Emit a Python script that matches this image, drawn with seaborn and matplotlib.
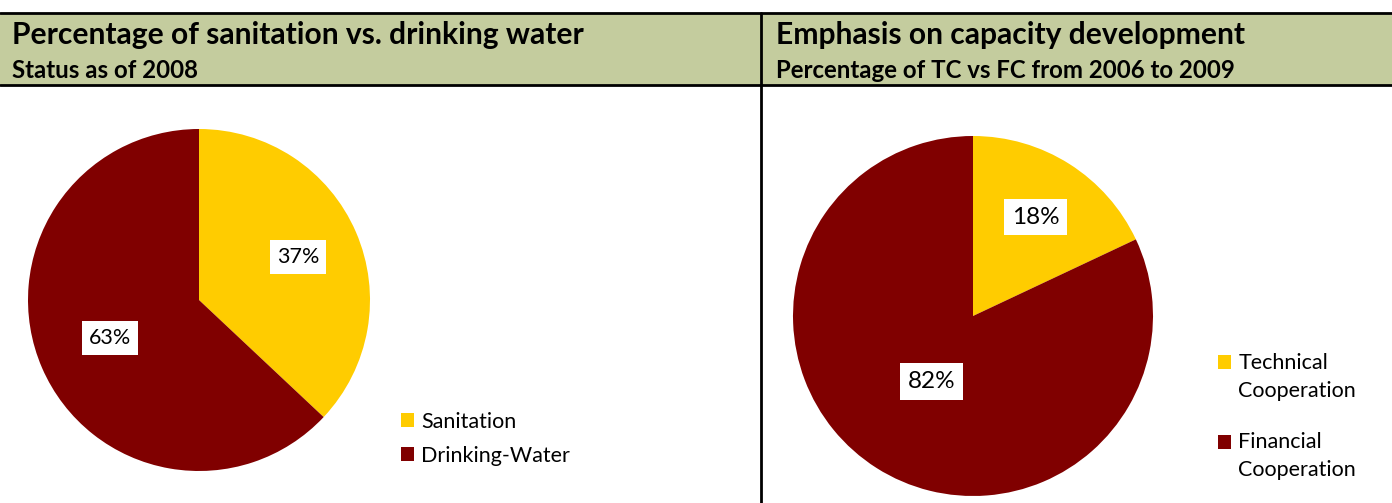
import numpy as np
import matplotlib
matplotlib.use("Agg")
import matplotlib.pyplot as plt
from matplotlib.patches import Rectangle
from matplotlib.legend_handler import HandlerPatch
import seaborn as sns

# data
left_labels = ["Sanitation", "Drinking-Water"]
left_values = [37, 63]
right_labels = ["Technical\nCooperation", "Financial\nCooperation"]
right_values = [18, 82]

left_title = "Percentage of sanitation vs. drinking water"
left_subtitle = "Status as of 2008"
right_title = "Emphasis on capacity development"
right_subtitle = "Percentage of TC vs FC from 2006 to 2009"

palette = ["#FFCC00", "#800000"]
header_color = "#C4CC9E"

sns.set_theme(style="white")
plt.rcParams['font.family'] = ['Lato', 'DejaVu Sans']
plt.rcParams['text.color'] = 'black'

W, H = 1392, 503
fig = plt.figure(figsize=(W / 100, H / 100), dpi=100)


class TopSquare(HandlerPatch):
    """square legend key lifted so it sits next to the first text line"""
    def __init__(self, lift):
        super().__init__()
        self.lift = lift

    def create_artists(self, legend, orig_handle, xdescent, ydescent,
                       width, height, fontsize, trans):
        p = Rectangle((-xdescent, -ydescent + self.lift), width, height,
                      facecolor=orig_handle.get_facecolor(), lw=0, transform=trans)
        return [p]


def px_box(cx, cy, r):
    # axes rect (figure fraction) for a pie centred at pixel (cx, cy) with radius r
    return [(cx - r) / W, 1 - (cy + r) / H, 2 * r / W, 2 * r / H]


# header band and frame lines
bg = fig.add_axes([0, 0, 1, 1])
bg.set_xlim(0, W)
bg.set_ylim(H, 0)
bg.axis("off")
bg.add_patch(Rectangle((0, 13), W, 72, color=header_color, lw=0))
bg.plot([0, W], [13, 13], color="black", lw=2)
bg.plot([0, W], [85, 85], color="black", lw=2)
bg.plot([761, 761], [13, H], color="black", lw=2)

bg.text(12, 44, left_title, fontsize=21.6, fontweight="bold", va="baseline", ha="left")
bg.text(12, 78, left_subtitle, fontsize=17.3, fontweight="bold", va="baseline", ha="left")
bg.text(776, 44, right_title, fontsize=21.6, fontweight="bold", va="baseline", ha="left")
bg.text(776, 78, right_subtitle, fontsize=17.3, fontweight="bold", va="baseline", ha="left")


def draw_pie(rect, values, labels, dists, fsizes, legend_anchor, spacing, lift):
    ax = fig.add_axes(rect)
    wedges, _ = ax.pie(values, colors=palette, startangle=90, counterclock=False,
                       radius=1, wedgeprops=dict(linewidth=0))
    ax.set_xlim(-1, 1)
    ax.set_ylim(-1, 1)
    ax.set_aspect("equal")
    ax.axis("off")
    total = float(sum(values))
    for w, v, d, fs in zip(wedges, values, dists, fsizes):
        ang = np.deg2rad((w.theta1 + w.theta2) / 2)
        ax.text(d * np.cos(ang), d * np.sin(ang), f"{v / total:.0%}", fontsize=fs,
                ha="center", va="center",
                bbox=dict(boxstyle="square,pad=0.32", fc="white", ec="none"))
    handles = [Rectangle((0, 0), 1, 1, color=c) for c in palette]
    leg = fig.legend(handles, labels, loc="upper left", bbox_to_anchor=legend_anchor,
                     frameon=False, fontsize=15.5, handlelength=0.62, handleheight=0.62,
                     handletextpad=0.35, labelspacing=spacing, borderaxespad=0,
                     handler_map={Rectangle: TopSquare(lift)})
    for t in leg.get_texts():
        t.set_linespacing(1.5)
    return ax


draw_pie(px_box(199, 300, 171), left_values, left_labels, [0.63, 0.565], [15.5, 15.5],
         (392 / W, 1 - 403 / H), 0.66, 0)
draw_pie(px_box(973, 316, 180), right_values, right_labels, [0.65, 0.43], [17.5, 17.5],
         (1209 / W, 1 - 344 / H), 1.45, 10.5)

fig.savefig("out.png", dpi=100)
